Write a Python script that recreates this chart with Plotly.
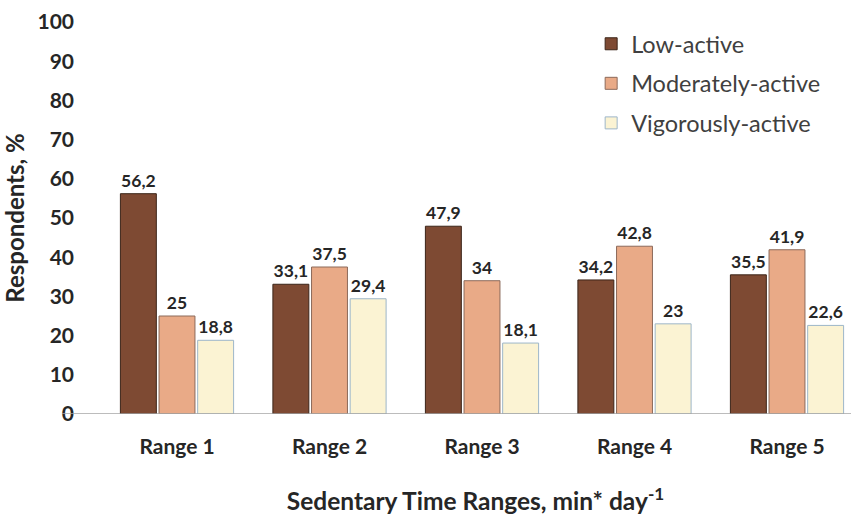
import plotly.graph_objects as go

categories = ["Range 1", "Range 2", "Range 3", "Range 4", "Range 5"]
low_active = [56.2, 33.1, 47.9, 34.2, 35.5]
moderately_active = [25, 37.5, 34, 42.8, 41.9]
vigorously_active = [18.8, 29.4, 18.1, 23, 22.6]
y_ticks = [0, 10, 20, 30, 40, 50, 60, 70, 80, 90, 100]

series = [
    ("Low-active", low_active, "#7E4A33", "#3B2418"),
    ("Moderately-active", moderately_active, "#E9AA87", "#8C6A5A"),
    ("Vigorously-active", vigorously_active, "#FBF3D3", "#9DB6C9"),
]

FONT = "Lato"
fig = go.Figure()
for i, (name, vals, col, line) in enumerate(series):
    fig.add_trace(go.Bar(
        name=name, x=list(range(len(categories))), y=vals,
        marker=dict(color=col, line=dict(color=line, width=1)),
        text=[f"{v:g}".replace(".", ",") for v in vals],
        textposition="outside",
        textfont=dict(family=FONT, size=17.5, color="#262626", weight="bold"),
        cliponaxis=False,
        legendgroup=f"g{i}",
    ))

L, R, T, B = 100, 0, 22, 101
W, H = 851, 515
plot_w = W - L - R
spacing = 152.5
x0 = -(177 - L) / spacing
x1 = x0 + plot_w / spacing

fig.update_layout(
    width=W, height=H,
    margin=dict(l=L, r=R, t=T, b=B, autoexpand=False),
    paper_bgcolor="white", plot_bgcolor="white",
    barmode="group", bargap=0.24, bargroupgap=0.07,
    font=dict(family=FONT, color="#262626"),
    showlegend=True,
    legend=dict(
        x=0.654, y=1.0, xanchor="left", yanchor="top",
        font=dict(family=FONT, size=23.5, color="#404040"),
        traceorder="grouped", tracegroupgap=6,
        bgcolor="rgba(0,0,0,0)",
    ),
    xaxis=dict(
        range=[x0, x1], automargin=False,
        tickmode="array", tickvals=list(range(len(categories))), ticktext=categories,
        tickfont=dict(family=FONT, size=21, color="#262626", weight="bold"),
        showline=False, showgrid=False, zeroline=False, ticks="",
        ticklabelstandoff=18,
        title=dict(text="Sedentary Time Ranges, min* day<sup>-1</sup>",
                   font=dict(family=FONT, size=24.5, color="#262626", weight="bold"),
                   standoff=36),
    ),
    yaxis=dict(
        range=[0, 100], tickmode="array", tickvals=y_ticks, automargin=False,
        tickfont=dict(family=FONT, size=21, color="#262626", weight="bold"),
        showline=False, showgrid=False, zeroline=False, ticks="",
        ticklabelstandoff=25,
        title=dict(text="Respondents, %",
                   font=dict(family=FONT, size=24, color="#262626", weight="bold"),
                   standoff=8),
    ),
)

fig.add_shape(type="line", xref="paper", yref="y",
              x0=(62 - L) / plot_w, x1=1, y0=0, y1=0,
              line=dict(color="#A6A6A6", width=1.5), layer="above")

fig.write_html("out.html", config={"displayModeBar": False},
               post_script="document.body.style.margin='0';document.body.style.padding='0';")
